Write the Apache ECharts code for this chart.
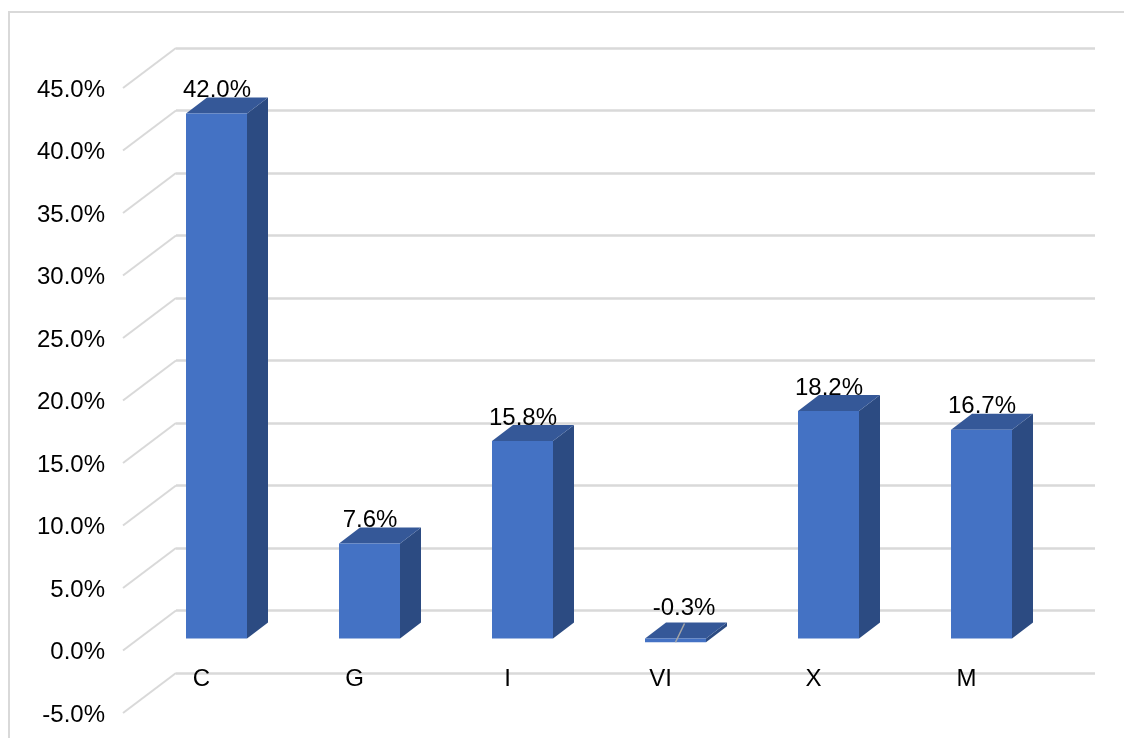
<!DOCTYPE html>
<html>
<head>
<meta charset="utf-8">
<style>html,body{margin:0;padding:0;background:#fff}#chart{width:1124px;height:738px}</style>
<script src="https://cdn.jsdelivr.net/npm/echarts@6/dist/echarts.min.js"></script>
</head>
<body>
<div id="chart"></div>
<script>
// Pseudo-3D column chart: front plane carries the axis labels, rear plane the gridlines.
const categories = ['C', 'G', 'I', 'VI', 'X', 'M'];
const growth = [42.0, 7.6, 15.8, -0.3, 18.2, 16.7];
const yTicks = [-5, 0, 5, 10, 15, 20, 25, 30, 35, 40, 45];

const FONT = '"Liberation Sans", Arial, sans-serif';
const GRID_COLOR = '#d9d9d9';
const WALL = { dx: 53, dy: -40 };    // front plane to rear wall
const COLUMN = { dx: 17, dy: -12, width: 61, depthX: 21, depthY: -16 };

function renderColumn(params, api) {
  const value = api.value(1);
  const base = api.coord([api.value(0), 0]);
  const tip = api.coord([api.value(0), value]);
  const cx = base[0] + COLUMN.dx;
  const y0 = base[1] + COLUMN.dy;
  const y1 = tip[1] + COLUMN.dy;
  const top = Math.min(y0, y1);
  const bottom = Math.max(y0, y1);
  const l = cx - COLUMN.width / 2;
  const r = cx + COLUMN.width / 2;
  const dx = COLUMN.depthX;
  const dy = COLUMN.depthY;
  const poly = (points, fill) => ({
    type: 'polygon', shape: { points }, style: { fill }
  });
  const negative = value < 0;
  const children = [
    {
      type: 'text',
      style: {
        text: value.toFixed(1) + '%',
        x: cx + (negative ? 8.5 : 0.5),
        y: top + (negative ? -30 : -23),
        font: '24px ' + FONT,
        fill: '#000',
        align: 'center',
        verticalAlign: 'middle'
      }
    },
    poly([[r, top], [r + dx, top + dy], [r + dx, bottom + dy], [r, bottom]], '#2c4b82'),
    poly([[l, top], [r, top], [r + dx, top + dy], [l + dx, top + dy]], '#355898'),
    poly([[l, top], [r, top], [r, bottom], [l, bottom]], '#4472c4')
  ];
  if (negative) {
    // Leader running from the short column towards its label.
    children.push({
      type: 'line',
      shape: { x1: cx, y1: bottom, x2: cx + 9, y2: top + dy + 1 },
      style: { stroke: '#a6a6a6', lineWidth: 1.5 }
    });
  }
  return { type: 'group', children };
}

function renderFloorEdge(params, api) {
  const p = api.coord([0, api.value(0)]);
  const left = params.coordSys.x;
  return {
    type: 'line',
    shape: { x1: left, y1: p[1], x2: left + WALL.dx, y2: p[1] + WALL.dy },
    style: { stroke: GRID_COLOR, lineWidth: 2 },
    z2: 0
  };
}

const chart = echarts.init(document.getElementById('chart'), null, { renderer: 'canvas' });
chart.setOption({
  animation: false,
  backgroundColor: '#fff',
  textStyle: { fontFamily: FONT },
  graphic: [{
    // Chart-area border: only its left and top edges fall inside the page.
    type: 'polyline',
    silent: true,
    z: -10,
    shape: { points: [[9, 738], [9, 12], [1124, 12]] },
    style: { fill: 'none', stroke: '#d9d9d9', lineWidth: 2 }
  }],
  grid: [
    { left: 123, top: 88, width: 918, height: 625 },   // front plane: columns and floor edges
    { left: 176, top: 48, width: 919, height: 625 },   // rear wall: gridlines
    { left: 123, top: 90, width: 918, height: 625 }    // value label baseline
  ],
  xAxis: [
    {
      gridIndex: 0,
      type: 'category',
      data: categories,
      axisLine: { show: false },
      axisTick: { show: false },
      axisLabel: { color: '#000', fontSize: 24, fontFamily: FONT, margin: -46, padding: [0, 0, 0, 4] }
    },
    {
      gridIndex: 1,
      type: 'category',
      data: categories,
      axisLine: { show: false },
      axisTick: { show: false },
      axisLabel: { show: false }
    },
    {
      gridIndex: 2,
      type: 'category',
      data: categories,
      axisLine: { show: false },
      axisTick: { show: false },
      axisLabel: { show: false }
    }
  ],
  yAxis: [
    {
      gridIndex: 0,
      type: 'value',
      min: -5,
      max: 45,
      interval: 5,
      axisLine: { show: false },
      axisTick: { show: false },
      splitLine: { show: false },
      axisLabel: { show: false }
    },
    {
      gridIndex: 1,
      type: 'value',
      min: -5,
      max: 45,
      interval: 5,
      axisLine: { show: false },
      axisTick: { show: false },
      axisLabel: { show: false },
      splitLine: { show: true, lineStyle: { color: GRID_COLOR, width: 2.5 } }
    },
    {
      gridIndex: 2,
      type: 'value',
      min: -5,
      max: 45,
      interval: 5,
      axisLine: { show: false },
      axisTick: { show: false },
      splitLine: { show: false },
      axisLabel: {
        color: '#000',
        fontSize: 24,
        fontFamily: FONT,
        margin: 18,
        formatter: v => v.toFixed(1) + '%'
      }
    }
  ],
  series: [
    {
      type: 'custom',
      xAxisIndex: 0,
      yAxisIndex: 0,
      coordinateSystem: 'cartesian2d',
      renderItem: renderFloorEdge,
      data: yTicks.map(t => [t]),
      encode: { y: 0 },
      clip: false,
      silent: true,
      z: 1
    },
    {
      type: 'custom',
      xAxisIndex: 0,
      yAxisIndex: 0,
      coordinateSystem: 'cartesian2d',
      renderItem: renderColumn,
      data: categories.map((c, i) => [i, growth[i]]),
      encode: { x: 0, y: 1 },
      clip: false,
      silent: true,
      z: 3
    }
  ]
});
</script>
</body>
</html>
